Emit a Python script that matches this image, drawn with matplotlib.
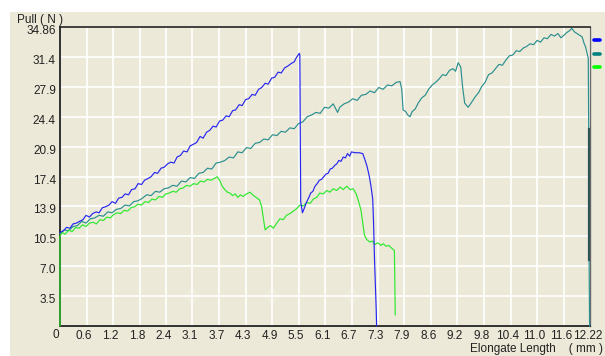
import matplotlib
matplotlib.use("Agg")
import matplotlib.pyplot as plt
from matplotlib.transforms import ScaledTranslation
from matplotlib.lines import Line2D
from matplotlib.patches import Rectangle
import numpy as np

# ---------------- data ----------------
x_max = 12.22
y_max = 34.86
x_tick_labels = ["0", "0.6", "1.2", "1.8", "2.4", "3.1", "3.7", "4.3", "4.9", "5.5", "6.1",
                 "6.7", "7.3", "7.9", "8.6", "9.2", "9.8", "10.4", "11.0", "11.6", "12.22"]
y_tick_labels = ["", "3.5", "7.0", "10.5", "13.9", "17.4", "20.9", "24.4", "27.9", "31.4", "34.86"]

blue_x = [0.00, 0.08, 0.15, 0.23, 0.30, 0.38, 0.45, 0.53, 0.60, 0.68, 0.75, 0.83, 0.90, 0.98,
          1.05, 1.13, 1.20, 1.28, 1.35, 1.43, 1.50, 1.58, 1.65, 1.73, 1.80, 1.88, 1.95, 2.03,
          2.10, 2.18, 2.25, 2.33, 2.40, 2.48, 2.55, 2.63, 2.70, 2.78, 2.85, 2.93, 3.00, 3.08,
          3.15, 3.23, 3.30, 3.38, 3.45, 3.53, 3.60, 3.68, 3.75, 3.83, 3.90, 3.98, 4.05, 4.13,
          4.20, 4.28, 4.35, 4.43, 4.50, 4.58, 4.65, 4.73, 4.80, 4.88, 4.95, 5.03, 5.10, 5.18,
          5.25, 5.33, 5.40, 5.45, 5.52,
          5.53, 5.55, 5.59, 5.63, 5.68, 5.73, 5.78, 5.83, 5.88, 5.93, 5.98, 6.03, 6.08, 6.13,
          6.18, 6.23, 6.28, 6.33, 6.38, 6.43, 6.48, 6.53, 6.58, 6.63, 6.68, 6.72, 6.80, 6.90,
          6.98, 7.03, 7.08, 7.13, 7.17, 7.21, 7.23, 7.25, 7.27, 7.29, 7.30]
blue_y = [10.9, 11.1, 11.5, 11.4, 11.9, 12.0, 12.2, 12.4, 12.9, 12.7, 13.1, 13.3, 13.2, 13.8,
          13.9, 14.1, 14.5, 14.3, 14.9, 15.0, 15.4, 15.3, 15.9, 16.0, 16.6, 16.5, 17.0, 17.2,
          17.4, 17.9, 17.8, 18.4, 18.5, 18.9, 19.1, 19.0, 19.7, 19.9, 20.4, 20.3, 21.0, 21.2,
          21.4, 22.1, 21.9, 22.6, 22.8, 23.3, 23.2, 23.9, 24.0, 24.5, 24.4, 25.1, 25.2, 25.8,
          25.7, 26.4, 26.5, 27.0, 26.9, 27.6, 27.8, 28.3, 28.2, 28.9, 29.0, 29.6, 29.5, 30.1,
          30.3, 30.6, 30.8, 31.3, 31.8,
          31.5, 14.5, 13.2, 13.7, 14.4, 14.9, 15.5, 15.7, 16.3, 16.6, 17.0, 17.1, 17.4, 17.7,
          17.8, 18.3, 18.4, 18.7, 18.9, 19.3, 19.2, 19.7, 19.6, 20.1, 19.8, 20.3, 20.2, 20.2,
          20.1, 19.4, 18.6, 17.5, 16.3, 14.8, 12.0, 8.0, 5.0, 2.0, 0.0]

teal_x = [0.00, 0.10, 0.20, 0.30, 0.40, 0.50, 0.60, 0.70, 0.80, 0.90, 1.00, 1.10, 1.20, 1.30,
          1.40, 1.50, 1.60, 1.70, 1.80, 1.90, 2.00, 2.10, 2.20, 2.30, 2.40, 2.50, 2.60, 2.70,
          2.80, 2.90, 3.00, 3.10, 3.20, 3.30, 3.40, 3.50, 3.60, 3.70, 3.80, 3.90, 4.00, 4.10,
          4.20, 4.30, 4.40, 4.50, 4.60, 4.70, 4.80, 4.90, 5.00, 5.10, 5.20, 5.30, 5.40, 5.50,
          5.60, 5.70, 5.80, 5.90, 6.00, 6.10, 6.20, 6.30, 6.40, 6.45, 6.55, 6.65, 6.75, 6.85,
          6.95, 7.05, 7.15, 7.25, 7.35, 7.45, 7.55, 7.65, 7.75, 7.84, 7.88, 7.91, 7.97, 8.02,
          8.07, 8.12, 8.19, 8.26, 8.34, 8.42, 8.50, 8.58, 8.66, 8.74, 8.82, 8.90, 8.98, 9.06,
          9.12, 9.18, 9.24, 9.28, 9.33, 9.38, 9.41, 9.48, 9.57, 9.65, 9.72, 9.80, 9.88, 9.96,
          10.04, 10.12, 10.20, 10.28, 10.36, 10.44, 10.52, 10.60, 10.68, 10.76, 10.84, 10.92,
          11.00, 11.08, 11.16, 11.24, 11.32, 11.40, 11.48, 11.55, 11.62, 11.68, 11.74, 11.80,
          11.86, 11.92, 11.98, 12.04, 12.08, 12.12, 12.16, 12.18, 12.19, 12.20, 12.21]
teal_y = [10.8, 11.2, 11.1, 11.6, 11.7, 12.2, 12.0, 12.5, 12.6, 12.9, 12.8, 13.3, 13.2, 13.6,
          13.7, 14.1, 14.0, 14.5, 14.6, 14.9, 15.3, 15.2, 15.7, 15.6, 16.0, 16.1, 16.4, 16.3,
          16.9, 16.8, 17.3, 17.2, 17.8, 17.9, 18.4, 18.3, 19.0, 19.1, 19.3, 19.7, 19.6, 20.3,
          20.2, 20.8, 20.7, 21.3, 21.4, 21.8, 21.7, 22.3, 22.2, 22.7, 22.6, 23.1, 23.0, 23.6,
          23.8, 24.4, 24.6, 24.9, 24.8, 25.5, 25.4, 25.9, 24.9, 25.5, 25.9, 26.1, 26.5, 26.3,
          26.9, 27.0, 27.4, 27.2, 27.8, 27.6, 28.1, 28.0, 28.4, 28.5, 27.6, 25.2, 25.0, 24.6,
          24.4, 25.0, 25.3, 26.0, 26.6, 26.9, 27.6, 28.1, 28.4, 28.8, 29.3, 29.2, 29.8, 30.0,
          29.7, 30.7, 30.2, 28.0, 26.0, 25.7, 25.5, 26.0, 26.7, 27.2, 27.9, 28.4, 29.3, 29.5,
          30.0, 30.5, 30.4, 31.0, 31.5, 31.6, 32.1, 32.0, 32.4, 32.6, 32.9, 32.8,
          33.3, 33.1, 33.6, 33.5, 34.0, 33.8, 34.1, 33.6, 33.9, 34.2, 34.4, 34.7,
          34.3, 34.1, 33.9, 33.7, 33.0, 32.5, 31.6, 31.2, 23.0, 7.7, 0.0]

dark_drop_x = [12.20, 12.20]
dark_drop_y = [23.0, 7.7]

green_x = [0.00, 0.00, 0.05, 0.12, 0.20, 0.28, 0.36, 0.44, 0.52, 0.60, 0.68, 0.76, 0.84, 0.92,
           1.00, 1.08, 1.16, 1.24, 1.32, 1.40, 1.48, 1.56, 1.64, 1.72, 1.80, 1.88, 1.96, 2.04,
           2.12, 2.20, 2.28, 2.36, 2.44, 2.52, 2.60, 2.68, 2.76, 2.84, 2.92, 3.00, 3.08, 3.16,
           3.24, 3.32, 3.40, 3.48, 3.56, 3.62, 3.68, 3.74, 3.80, 3.86, 3.92, 3.98, 4.04, 4.10,
           4.16, 4.22, 4.30, 4.38, 4.44, 4.52, 4.60, 4.65, 4.69, 4.73, 4.79, 4.85, 4.92, 5.00,
           5.07, 5.15, 5.22, 5.30, 5.38, 5.46, 5.53, 5.61, 5.69, 5.77, 5.84, 5.92, 5.99, 6.07,
           6.15, 6.22, 6.30, 6.38, 6.46, 6.53, 6.61, 6.69, 6.76, 6.83, 6.88, 6.94, 6.98, 7.02,
           7.07, 7.14, 7.20, 7.26, 7.33, 7.40, 7.45, 7.52, 7.58, 7.64, 7.71, 7.72, 7.73]
green_y = [0.0, 10.5, 10.9, 10.7, 11.2, 11.0, 11.5, 11.4, 11.8, 11.6, 12.0, 12.1, 11.9, 12.4,
           12.3, 12.7, 12.6, 13.0, 13.2, 13.1, 13.5, 13.4, 13.8, 13.9, 14.2, 14.1, 14.5, 14.4,
           14.8, 14.7, 15.1, 15.0, 15.4, 15.5, 15.7, 15.6, 16.0, 16.1, 16.4, 16.3, 16.6, 16.5,
           16.9, 16.8, 17.1, 17.0, 17.2, 17.4, 17.0, 16.3, 15.9, 15.6, 15.5, 15.2, 15.4, 15.0,
           15.3, 15.1, 15.4, 15.6, 15.3, 15.0, 14.7, 13.9, 12.5, 11.2, 11.5, 11.7, 11.4, 12.0,
           12.5, 12.4, 12.9, 13.1, 13.4, 13.7, 14.1, 14.0, 14.4, 14.3, 14.8, 15.0, 15.5, 15.4,
           15.8, 15.6, 16.0, 15.8, 16.2, 15.9, 16.3, 15.9, 16.0, 15.4, 14.6, 13.5, 12.0, 10.6,
           10.1, 9.8, 9.9, 9.5, 9.7, 9.4, 9.6, 9.3, 9.4, 9.1, 8.8, 5.0, 1.3]

series_colors = ["#0000ff", "#008080", "#00ff00"]

# ---------------- figure ----------------
W, H = 605, 356
fig = plt.figure(figsize=(W / 100, H / 100), dpi=100)
fig.patch.set_facecolor("white")
bg = "#ECE9D8"
fig.add_artist(Rectangle((10 / W, 0), 1 - 10 / W, (H - 12) / H, transform=fig.transFigure,
                         facecolor=bg, edgecolor="none", zorder=0))

fam = ["Liberation Sans Narrow", "Liberation Sans", "DejaVu Sans"]
plt.rcParams["font.family"] = fam

ax = fig.add_axes([60 / W, (H - 326) / H, 530 / W, 299 / H])
ax.set_facecolor(bg)
ax.set_xlim(0, x_max)
ax.set_ylim(0, y_max)

xt = np.linspace(0, x_max, len(x_tick_labels))
yt = np.linspace(0, y_max, len(y_tick_labels))
ax.set_xticks(xt)
ax.set_xticklabels(x_tick_labels, fontsize=8.5, color="#222222")
ax.set_yticks(yt)
ax.set_yticklabels(y_tick_labels, fontsize=8.5, color="#222222")
ax.tick_params(axis="both", length=0)
ax.tick_params(axis="x", pad=3)
ax.tick_params(axis="y", pad=3)
for lab in ax.get_yticklabels():
    lab.set_va("center")
    lab.set_transform(lab.get_transform() + ScaledTranslation(0, -0.04, fig.dpi_scale_trans))
for i, lab in enumerate(ax.get_xticklabels()):
    if i == 0:
        lab.set_ha("right")
        lab.set_transform(lab.get_transform() + ScaledTranslation(-0.005, 0.01, fig.dpi_scale_trans))
    else:
        lab.set_transform(lab.get_transform() + ScaledTranslation(-0.025, 0, fig.dpi_scale_trans))

ax.grid(True, color="white", lw=1.2)
ax.set_axisbelow(True)

for s in ["left", "top", "bottom"]:
    ax.spines[s].set_color("#222222")
ax.spines["left"].set_linewidth(1.3)
ax.spines["top"].set_linewidth(1.2)
ax.spines["bottom"].set_linewidth(1.3)
ax.spines["right"].set_color("#6a6a6a")
ax.spines["right"].set_linewidth(1.0)

ax.plot(teal_x, teal_y, color="#2a8f8f", lw=0.85, zorder=3, clip_on=False)
ax.plot(dark_drop_x, dark_drop_y, color="#2f5656", lw=1.6, zorder=4, clip_on=False)
ax.plot(green_x, green_y, color="#2ee82e", lw=0.85, zorder=3, clip_on=False)
ax.plot(blue_x, blue_y, color="#2626f2", lw=0.85, zorder=5, clip_on=False)

# legend markers on the right
for c, ypx in zip(series_colors, [40, 54, 67]):
    fig.add_artist(Line2D([594 / W, 600 / W], [1 - ypx / H, 1 - ypx / H], transform=fig.transFigure,
                          color=c, lw=2.6, solid_capstyle="round"))

fig.text(17 / W, 1 - 20 / H, "Pull ( N )", fontsize=8.5, ha="left", va="center", color="#222222")
fig.text(603 / W, 1 - 349 / H, "Elongate Length    ( mm )", fontsize=8.5, ha="right", va="center",
         color="#222222")

fig.savefig("out.png", dpi=100, facecolor=fig.get_facecolor())
